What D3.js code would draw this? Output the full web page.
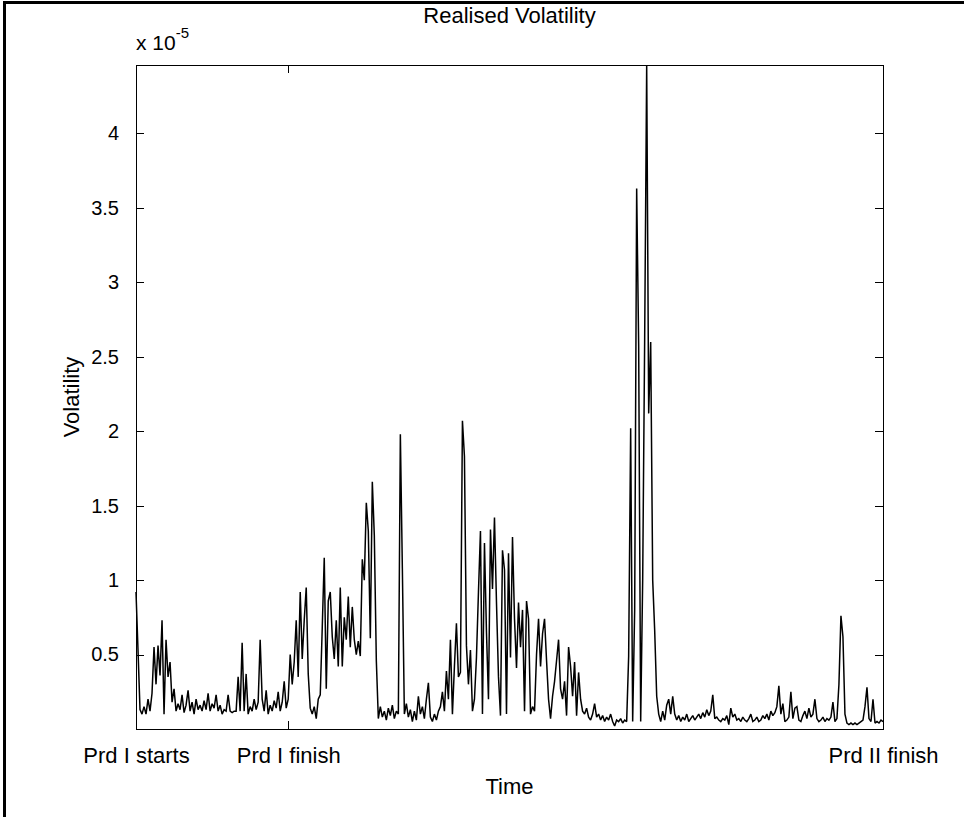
<!DOCTYPE html>
<html>
<head>
<meta charset="utf-8">
<script src="https://cdn.jsdelivr.net/npm/d3@7"></script>
<style>
  body { margin: 0; background: white; }
  text { font-family: "Liberation Sans", Arial, sans-serif; fill: black; }
</style>
</head>
<body>
<div id="chart"></div>
<script>
// Realised volatility (units of 1e-5), one value per time step
const seg1 = [
  0.92,0.53,0.13,0.10,0.15,0.10,0.20,0.12,0.24,0.55,
  0.30,0.56,0.36,0.73,0.10,0.60,0.35,0.45,0.18,0.27,
  0.12,0.17,0.13,0.23,0.11,0.16,0.26,0.12,0.18,0.10,
  0.20,0.13,0.16,0.12,0.19,0.13,0.24,0.12,0.17,0.14,
  0.23,0.12,0.16,0.10,0.13,0.12,0.23,0.12,0.11,0.12,
  0.12,0.35,0.12,0.58,0.12,0.37,0.10,0.15,0.12,0.20,
  0.13,0.18,0.60,0.20,0.12,0.26,0.10,0.16,0.12,0.19,
  0.14,0.25,0.12,0.18,0.32,0.14,0.20,0.50,0.30,0.45
];
const seg2 = [
  0.73,0.35,0.92,0.47,0.73,0.95,0.37,0.14,0.10,0.15,
  0.07,0.20,0.23,0.68,1.15,0.27,0.86,0.92,0.62,0.47,
  0.73,0.42,0.95,0.42,0.75,0.60,0.89,0.55,0.82,0.60,
  0.50,0.59,0.49,1.14,1.00,1.52,1.33,0.61,1.66,1.30,
  0.46,0.07,0.15,0.08,0.12,0.06,0.14,0.09,0.16,0.07,
  0.12,0.10,1.98,1.08,0.10,0.17,0.08,0.13,0.05,0.12,
  0.06,0.22,0.10,0.15,0.07,0.20,0.31,0.08,0.05,0.10,
  0.06,0.12,0.15,0.25,0.12,0.39,0.20,0.60,0.10,0.42
];
const seg3 = [
  0.71,0.35,0.38,2.07,1.83,0.56,0.30,0.53,0.12,0.20,
  0.48,0.92,1.33,0.10,1.25,0.65,0.20,1.34,0.94,1.42,
  0.85,0.35,0.09,1.20,1.07,0.10,1.18,0.48,1.29,0.74,
  0.41,0.85,0.55,0.80,0.12,0.86,0.74,0.10,0.15,0.12,
  0.50,0.74,0.42,0.64,0.74,0.46,0.20,0.07,0.22,0.32,
  0.46,0.60,0.27,0.20,0.32,0.09,0.55,0.42,0.22,0.45,
  0.09,0.38,0.20,0.12,0.10,0.14,0.08,0.06,0.10,0.17,
  0.08,0.10,0.06,0.09,0.05,0.08,0.06,0.10,0.05,0.02
];
const seg4 = [
  0.06,0.05,0.07,0.04,0.06,0.05,0.49,2.02,0.05,0.80,
  3.63,2.57,0.05,1.00,2.63,4.46,2.12,2.60,1.00,0.66,
  0.22,0.10,0.05,0.12,0.06,0.16,0.20,0.10,0.22,0.10,
  0.06,0.09,0.05,0.08,0.06,0.10,0.05,0.07,0.09,0.06,
  0.08,0.10,0.07,0.11,0.08,0.13,0.09,0.12,0.23,0.07,
  0.08,0.06,0.05,0.07,0.06,0.09,0.03,0.14,0.08,0.10,
  0.06,0.07,0.05,0.08,0.06,0.05,0.07,0.10,0.05,0.06
];
const seg5 = [
  0.08,0.05,0.06,0.09,0.07,0.10,0.06,0.12,0.09,0.11,
  0.15,0.29,0.10,0.17,0.05,0.06,0.08,0.25,0.07,0.14,
  0.15,0.06,0.05,0.09,0.12,0.07,0.14,0.08,0.10,0.20,
  0.07,0.05,0.06,0.08,0.05,0.07,0.06,0.08,0.18,0.05,
  0.07,0.30,0.76,0.62,0.10,0.04,0.03,0.04,0.03,0.04,
  0.03,0.04,0.05,0.06,0.15,0.28,0.07,0.05,0.20,0.04,
  0.05,0.04,0.06,0.05
];
const volatility = [...seg1, ...seg2, ...seg3, ...seg4, ...seg5];

// x tick positions (time index) and their labels
const xTickIdx = [0, 76, volatility.length - 1];
const xTickLabels = ["Prd I starts", "Prd I finish", "Prd II finish"];
const yTicks = [0.5, 1, 1.5, 2, 2.5, 3, 3.5, 4];

let width = 964, height = 817;
let margin = { top: 65, bottom: 88, left: 136, right: 81 };

let svg = d3.select('#chart')
  .append('svg')
  .attr('width', width)
  .attr('height', height)
  .style('background', 'white');

// outer frame (only top and left edges visible)
svg.append('path')
  .attr('d', `M4.5,${height} V2.5 H${width}`)
  .attr('fill', 'none')
  .attr('stroke', 'black')
  .attr('stroke-width', 3);

let xScale = d3.scaleLinear()
  .domain([0, volatility.length - 1])
  .range([margin.left, width - margin.right]);

let yScale = d3.scaleLinear()
  .domain([0, d3.max(volatility)])
  .range([height - margin.bottom, margin.top]);

let x0 = margin.left, x1 = width - margin.right;
let y0 = height - margin.bottom, y1 = margin.top;

// the data line
let line = d3.line()
  .x((d, i) => xScale(i))
  .y(d => yScale(d));

svg.append('path')
  .datum(volatility)
  .attr('d', line)
  .attr('fill', 'none')
  .attr('stroke', 'black')
  .attr('stroke-width', 1.5)
  .attr('stroke-linejoin', 'miter')
  .attr('stroke-miterlimit', 2);

// axes: ticks inward on all four sides
let fmt = d => d3.format('~g')(d);
let yLeft = svg.append('g')
  .attr('transform', `translate(${x0},0)`)
  .call(d3.axisLeft(yScale).tickValues(yTicks).tickSizeInner(-8).tickSizeOuter(0).tickPadding(17).tickFormat(fmt));
let yRight = svg.append('g')
  .attr('transform', `translate(${x1},0)`)
  .call(d3.axisRight(yScale).tickValues(yTicks).tickSizeInner(-8).tickSizeOuter(0).tickFormat(''));
let xBottom = svg.append('g')
  .attr('transform', `translate(0,${y0})`)
  .call(d3.axisBottom(xScale).tickValues(xTickIdx).tickSizeInner(-8).tickSizeOuter(0).tickPadding(18)
    .tickFormat((d, i) => xTickLabels[i]));
let xTop = svg.append('g')
  .attr('transform', `translate(0,${y1})`)
  .call(d3.axisTop(xScale).tickValues(xTickIdx).tickSizeInner(-8).tickSizeOuter(0).tickFormat(''));

svg.selectAll('.domain').remove();
svg.selectAll('.tick line').attr('stroke', 'black').attr('shape-rendering', 'crispEdges');
yLeft.selectAll('.tick text').style('font-size', '20px').style('font-family', '"Liberation Sans", Arial, sans-serif');
xBottom.selectAll('.tick text').style('font-size', '22px').style('font-family', '"Liberation Sans", Arial, sans-serif');

// axes box
svg.append('rect')
  .attr('x', x0 + 0.5).attr('y', y1 + 0.5)
  .attr('width', x1 - x0).attr('height', y0 - y1)
  .attr('fill', 'none')
  .attr('stroke', 'black')
  .attr('stroke-width', 1)
  .attr('shape-rendering', 'crispEdges');

// exponent label
let expo = svg.append('text')
  .attr('x', x0)
  .attr('y', 50)
  .style('font-size', '21px');
expo.append('tspan').text('x 10');
expo.append('tspan').attr('dy', -12).style('font-size', '15px').text('-5');

// title and axis labels
svg.append('text')
  .attr('x', (x0 + x1) / 2)
  .attr('y', 23)
  .attr('text-anchor', 'middle')
  .style('font-size', '22px')
  .text('Realised Volatility');

svg.append('text')
  .attr('x', (x0 + x1) / 2)
  .attr('y', 794)
  .attr('text-anchor', 'middle')
  .style('font-size', '22px')
  .text('Time');

svg.append('text')
  .attr('transform', `translate(79,${(y0 + y1) / 2}) rotate(-90)`)
  .attr('text-anchor', 'middle')
  .style('font-size', '22px')
  .text('Volatility');
</script>
</body>
</html>
